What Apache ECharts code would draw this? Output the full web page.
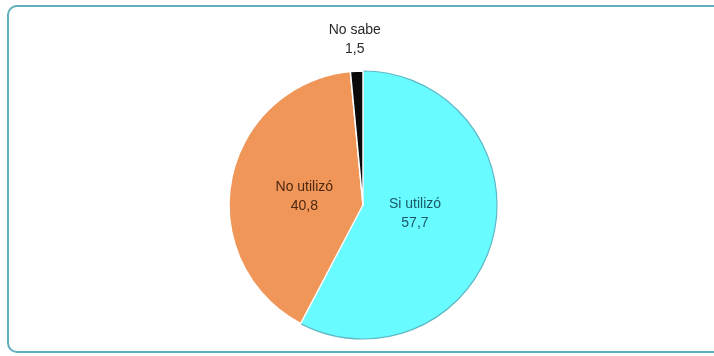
<!DOCTYPE html>
<html>
<head>
<meta charset="utf-8">
<script src="https://cdn.jsdelivr.net/npm/echarts@6/dist/echarts.min.js"></script>
<style>
html,body{margin:0;padding:0;background:#fff;}
#c{width:714px;height:356px;}
</style>
</head>
<body>
<div id="c"></div>
<script>
var categories = ['Si utilizó', 'No utilizó', 'No sabe'];
var values = [57.7, 40.8, 1.5];
var valueLabels = ['57,7', '40,8', '1,5'];

var styles = [
  {color: '#68FBFF', text: '#1b5866', offset: [-16, -8]},
  {color: '#F09658', text: '#4e2810', offset: [10, 5]},
  {color: '#0a0a0a', text: '#2a2a2a', offset: [-5, -95]}
];

var data = categories.map(function (name, i) {
  return {
    name: name,
    value: values[i],
    itemStyle: {color: styles[i].color, borderColor: i === 0 ? '#5fb9c6' : '#ffffff', borderWidth: i === 0 ? 1.2 : 1.5},
    label: {color: styles[i].text, offset: styles[i].offset}
  };
});

var chart = echarts.init(document.getElementById('c'), null, {renderer: 'canvas'});
chart.setOption({
  backgroundColor: '#ffffff',
  animation: false,
  graphic: [{
    type: 'rect',
    shape: {x: 8, y: 6, width: 730, height: 346, r: 9},
    style: {fill: 'none', stroke: '#5eaebd', lineWidth: 2},
    z: -1
  }],
  series: [{
    type: 'pie',
    center: [363, 205],
    radius: [0, 134],
    startAngle: 90,
    clockwise: true,
    data: data,
    label: {
      show: true,
      position: 'inside',
      fontFamily: 'Liberation Sans, Arial, sans-serif',
      fontSize: 14,
      lineHeight: 19,
      align: 'center',
      formatter: function (p) { return p.name + '\n' + valueLabels[p.dataIndex]; }
    },
    labelLine: {show: false},
    emphasis: {disabled: true}
  }]
});
</script>
</body>
</html>
